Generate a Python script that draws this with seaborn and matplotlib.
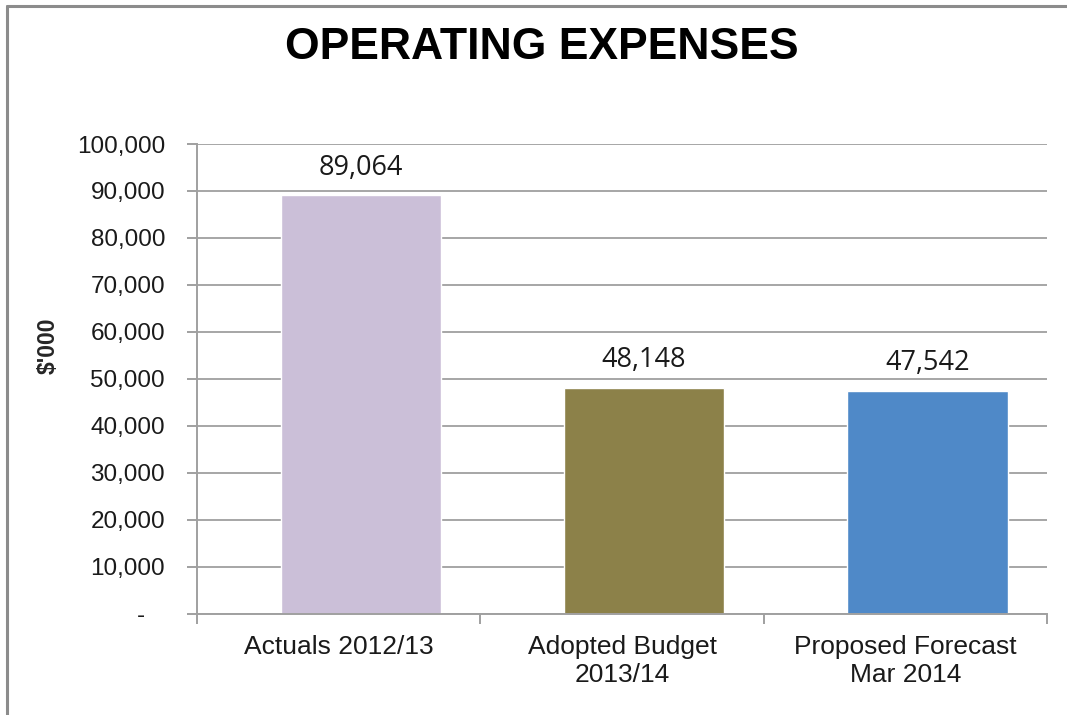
import matplotlib
matplotlib.use("Agg")
import matplotlib.pyplot as plt
import seaborn as sns
import pandas as pd
from matplotlib.lines import Line2D
from matplotlib.ticker import FuncFormatter, FixedLocator

categories = ["Actuals 2012/13", "Adopted Budget\n2013/14", "Proposed Forecast\nMar 2014"]
values = [89064, 48148, 47542]
colors = ["#CBBFD8", "#8C8149", "#4F89C8"]
title = "OPERATING EXPENSES"
ylabel = "$'000"

sns.set_theme(style="white")
plt.rcParams['font.family'] = ['Liberation Sans', 'DejaVu Sans']

df = pd.DataFrame({"cat": categories, "val": values})

fig = plt.figure(figsize=(10.67, 7.15), dpi=100)
ax = fig.add_axes([0.1846, 0.1413, 0.9813 - 0.1846, 0.7986 - 0.1413])

sns.barplot(data=df, x="cat", y="val", hue="cat", palette=colors, width=0.565,
            legend=False, ax=ax, saturation=1)

# bars in the reference sit slightly right of their category centre
for p in ax.patches:
    p.set_x(p.get_x() + 0.078)

ax.set_ylim(0, 100000)
ax.set_xlim(-0.5, 2.5)
ax.set_yticks(range(0, 100001, 10000))
ax.yaxis.set_major_formatter(FuncFormatter(lambda v, p: "-   " if v == 0 else f"{v:,.0f}"))
ax.grid(axis="y", color="#A6A6A6", linewidth=1.4)
ax.set_axisbelow(True)
for s in ["top", "right"]:
    ax.spines[s].set_visible(False)
for s in ["left", "bottom"]:
    ax.spines[s].set_color("#A0A0A0")
    ax.spines[s].set_linewidth(1.4)

ax.tick_params(axis="y", which="major", left=True, length=7, width=1.4, color="#A0A0A0",
               labelsize=17.5, labelcolor="#1a1a1a", pad=16)
ax.tick_params(axis="x", which="major", bottom=False, labelsize=19, labelcolor="#1a1a1a", pad=9)
ax.xaxis.set_minor_locator(FixedLocator([-0.5, 0.5, 1.5, 2.5]))
ax.tick_params(axis="x", which="minor", bottom=True, length=7, width=1.4, color="#A0A0A0")
ax.set_xlabel("")
ax.set_ylabel("")

for c in ax.containers:
    ax.bar_label(c, labels=[f"{v:,.0f}" for v in c.datavalues], padding=10,
                 fontsize=19.5, family=["Open Sans", "DejaVu Sans"], color="#1a1a1a")

fig.text(0.508, 0.933, title, ha="center", va="center", fontsize=32, fontweight="bold", color="black")
fig.text(0.045, 0.517, ylabel, ha="center", va="center", rotation=90, fontsize=16.5,
         fontweight="bold", family=["Liberation Sans Narrow", "Liberation Sans", "DejaVu Sans"])

fig.add_artist(Line2D([0.0065, 1.0], [1 - 6/715, 1 - 6/715], color="#8C8C8C", linewidth=2.2,
                      transform=fig.transFigure))
fig.add_artist(Line2D([7/1067, 7/1067], [0.0, 1 - 6/715], color="#8C8C8C", linewidth=2.2,
                      transform=fig.transFigure))

fig.savefig("out.png", dpi=100)
